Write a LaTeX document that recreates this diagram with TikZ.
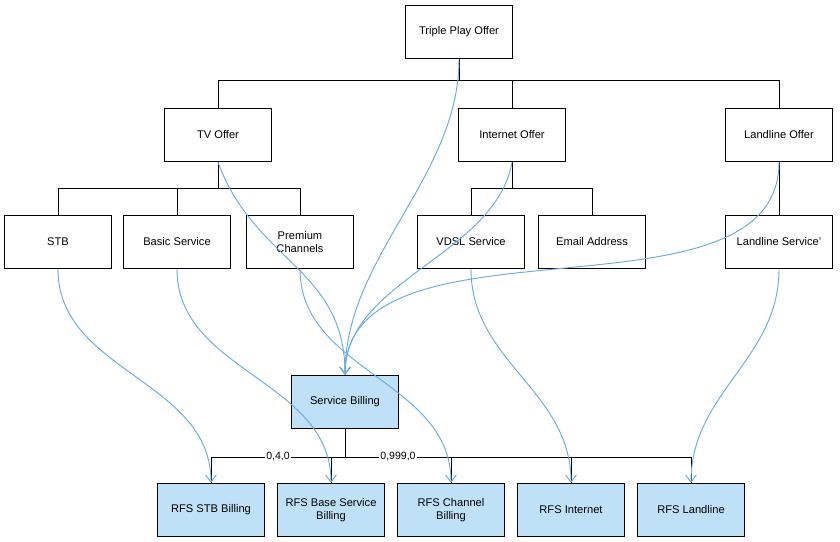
\documentclass[tikz,border=0pt]{standalone}
\usepackage{fontspec}
\setmainfont{Liberation Sans}
\usetikzlibrary{arrows.meta}
\definecolor{linkblue}{RGB}{104,170,228}
\definecolor{fillblue}{RGB}{190,225,247}
\tikzset{
  box/.style={draw, thick, minimum width=3.2cm, minimum height=1.6cm, align=center, font=\fontsize{9.5}{11}\selectfont},
  bill/.style={box, fill=fillblue},
  tree/.style={draw, thick},
  link/.style={draw=linkblue, thick, -{Straight Barb[length=6pt,width=9pt]}},
  mult/.style={fill=white, inner sep=1pt, font=\fontsize{9}{10}\selectfont}
}
\begin{document}
\begin{tikzpicture}[x=0.03cm, y=-0.03cm]
\useasboundingbox (0,0) rectangle (840,542);
% offers
\node[box] (triple) at (459,32) {Triple Play Offer};
\node[box] (tv) at (218,135) {TV Offer};
\node[box] (inet) at (512,135) {Internet Offer};
\node[box] (land) at (779,135) {Landline Offer};
% services
\node[box] (stb) at (58,242) {STB};
\node[box] (basic) at (177,242) {Basic Service};
\node[box] (prem) at (300,242) {Premium\\Channels};
\node[box] (vdsl) at (471,242) {VDSL Service};
\node[box] (mail) at (592,242) {Email Address};
\node[box] (lserv) at (779,242) {Landline Service'};
% billing
\node[bill] (sbill) at (345,402) {Service Billing};
\node[bill] (rstb) at (211,510) {RFS STB Billing};
\node[bill] (rbase) at (331,510) {RFS Base Service\\Billing};
\node[bill] (rchan) at (451,510) {RFS Channel\\Billing};
\node[bill] (rinet) at (571,510) {RFS Internet};
\node[bill] (rland) at (691,510) {RFS Landline};
% tree lines
\draw[tree] (triple.south) -- ++(0,21) coordinate (tj);
\foreach \n in {tv,inet,land}
  \draw[tree] (tj) -| (\n.north);
\draw[tree] (tv.south) -- ++(0,26) coordinate (vj);
\foreach \n in {stb,basic,prem}
  \draw[tree] (vj) -| (\n.north);
\draw[tree] (inet.south) -- ++(0,26) coordinate (ij);
\foreach \n in {vdsl,mail}
  \draw[tree] (ij) -| (\n.north);
\draw[tree] (land.south) -- (lserv.north);
\draw[tree] (sbill.south) -- ++(0,28) coordinate (bj);
\foreach \n in {rstb,rbase,rchan,rinet,rland}
  \draw[tree] (bj) -| (\n.north);
\node[mult] at (278,456) {0,4,0};
\node[mult] at (398,456) {0,999,0};
% billing links
\draw[link] (triple.south) to[out=-90,in=90,looseness=0.9] (sbill.north);
\draw[link] (tv.south) to[out=-70,in=90,looseness=1.1] (sbill.north);
\draw[link] (inet.south) to[out=-100,in=90,looseness=0.9] (sbill.north);
\draw[link] (land.south) to[out=-90,in=90,looseness=0.9] (sbill.north);
\draw[link] (stb.south) to[out=-90,in=90] (rstb.north);
\draw[link] (basic.south) to[out=-90,in=90] (rbase.north);
\draw[link] (prem.south) to[out=-90,in=90] (rchan.north);
\draw[link] (vdsl.south) to[out=-90,in=90] (rinet.north);
\draw[link] (lserv.south) to[out=-90,in=90] (rland.north);
\end{tikzpicture}
\end{document}
